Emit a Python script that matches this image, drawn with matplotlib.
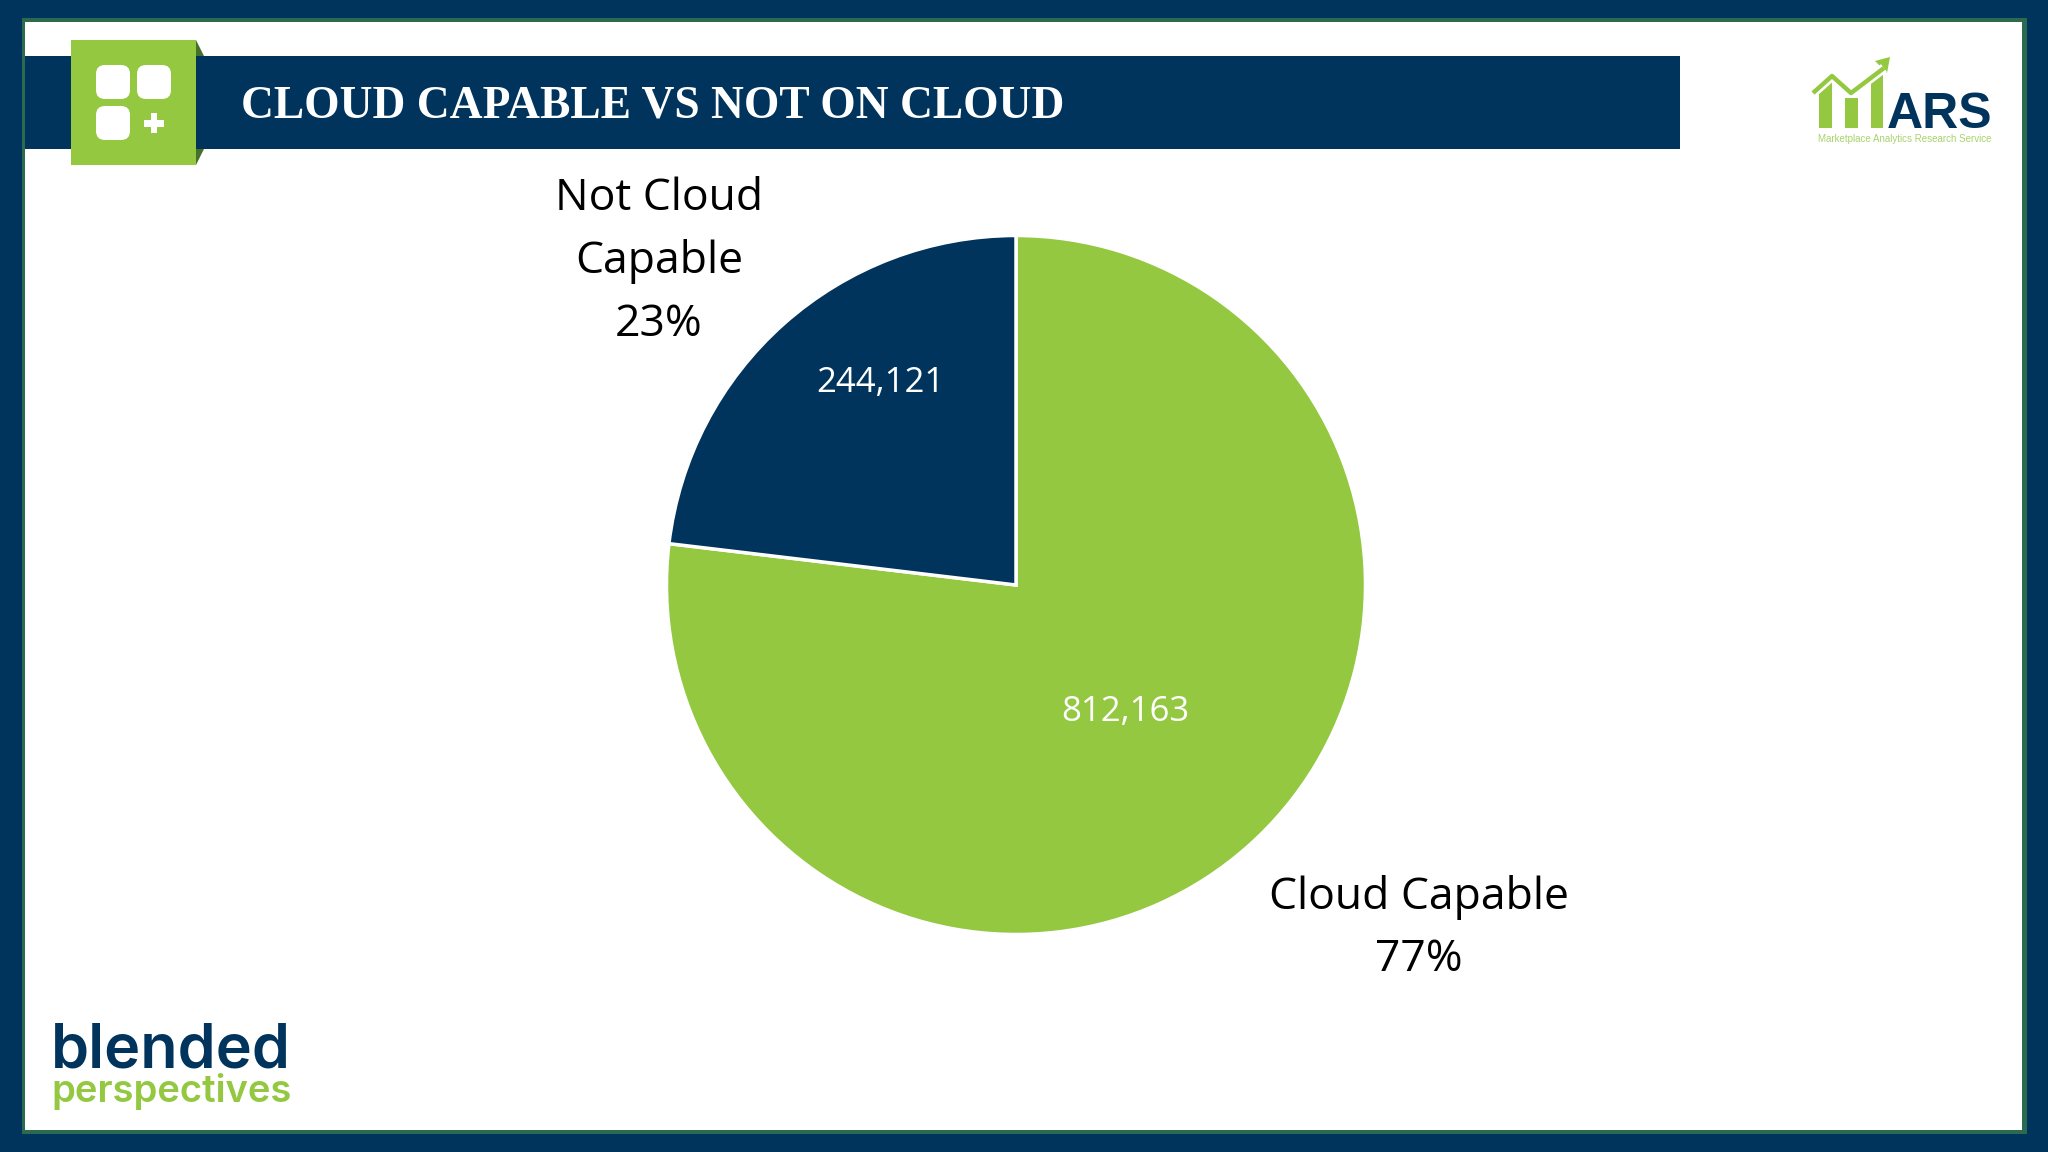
import matplotlib
matplotlib.use("Agg")
import matplotlib.pyplot as plt
from matplotlib.patches import Rectangle, Polygon, FancyBboxPatch

NAVY = "#00345C"
GREEN = "#93C840"
DARK_GREEN = "#47702B"

# chart data
categories = ["Cloud Capable", "Not Cloud Capable"]
values = [812163, 244121]
value_labels = ["812,163", "244,121"]
percent_labels = ["77%", "23%"]
title = "CLOUD CAPABLE VS NOT ON CLOUD"

W, H = 2048, 1152
fig = plt.figure(figsize=(W / 100, H / 100), dpi=100, facecolor=NAVY)

# overlay in pixel coordinates for the slide furniture
bg = fig.add_axes([0, 0, 1, 1])
bg.set_xlim(0, W)
bg.set_ylim(H, 0)
bg.axis("off")


def rect(x0, y0, x1, y1, color, **kw):
    bg.add_patch(Rectangle((x0, y0), x1 - x0, y1 - y0, facecolor=color, edgecolor="none", **kw))


# slide frame
rect(22, 18, 2027, 1134, "#2A6B50")
rect(25, 22, 2022, 1130, "white")

# header band and icon
rect(25, 56, 1680, 149, NAVY)
bg.add_patch(Polygon([(196, 40), (204, 56), (196, 56)], facecolor=DARK_GREEN, edgecolor="none"))
bg.add_patch(Polygon([(196, 149), (204, 149), (196, 165)], facecolor=DARK_GREEN, edgecolor="none"))
rect(71, 40, 196, 165, GREEN)
for x0, y0 in [(96, 65), (137, 65), (96, 106)]:
    bg.add_patch(FancyBboxPatch((x0 + 7, y0 + 7), 20, 20, boxstyle="round,pad=7,rounding_size=9",
                                facecolor="white", edgecolor="none"))
rect(144, 120, 164, 127, "white")
rect(151, 113, 157, 133, "white")
bg.text(241, 117, title, color="white", fontsize=32.8, fontweight="bold",
        family="Liberation Serif", ha="left", va="baseline")

# MARS logo
for x0, top, x1 in [(1819, 86, 1832), (1845, 98, 1858), (1871, 75, 1883)]:
    rect(x0, top, x1, 128, GREEN)
bg.add_patch(Polygon([(1819, 86), (1832, 79), (1832, 100), (1819, 100)], facecolor=GREEN, edgecolor="none"))
bg.plot([1813, 1832, 1851, 1884], [93, 76, 93, 68], color="white", lw=7, solid_capstyle="butt")
bg.plot([1813, 1832, 1851, 1884], [93, 76, 93, 68], color=GREEN, lw=3.2, solid_capstyle="butt")
bg.add_patch(Polygon([(1890, 57), (1875, 61), (1887, 73)], facecolor=GREEN, edgecolor="none"))
bg.text(1887, 128, "ARS", color=NAVY, fontsize=36, fontweight="bold",
        family="Liberation Sans", ha="left", va="baseline")
bg.text(1818, 142, "Marketplace Analytics Research Service", color="#A9D36B", fontsize=7,
        family="Liberation Sans", ha="left", va="baseline")

# blended perspectives logo
bg.text(51, 1068, "blended", color=NAVY, fontsize=44, fontweight="semibold", family="Inter",
        ha="left", va="baseline")
bg.text(51, 1102, "perspectives", color=GREEN, fontsize=27.5, fontweight="semibold", family="Inter",
        ha="left", va="baseline")

# pie
cx, cy, r = 1016, 585, 349.5
ax = fig.add_axes([(cx - r) / W, 1 - (cy + r) / H, 2 * r / W, 2 * r / H])
wedges, _ = ax.pie(values, colors=[GREEN, NAVY], startangle=90, counterclock=False,
                   wedgeprops={"edgecolor": "white", "linewidth": 2.5, "clip_on": False})
ax.set_xlim(-1, 1)
ax.set_ylim(-1, 1)

# labels sit in a top layer so the pie does not cover them
fg = fig.add_axes([0, 0, 1, 1])
fg.set_xlim(0, W)
fg.set_ylim(H, 0)
fg.axis("off")

label_font = "Open Sans"
fg.text(1125, 712, value_labels[0], color="white", fontsize=25, family=label_font, ha="center", va="center")
fg.text(880, 383, value_labels[1], color="white", fontsize=25, family=label_font, ha="center", va="center")
fg.text(1419, 897, "Cloud Capable", color="black", fontsize=32, family=label_font, ha="center", va="center")
fg.text(1419, 960, percent_labels[0], color="black", fontsize=32, family=label_font, ha="center", va="center")
fg.text(659, 199, "Not Cloud", color="black", fontsize=32, family=label_font, ha="center", va="center")
fg.text(659, 262, "Capable", color="black", fontsize=32, family=label_font, ha="center", va="center")
fg.text(659, 325, percent_labels[1], color="black", fontsize=32, family=label_font, ha="center", va="center")

fig.savefig("out.png", dpi=100, facecolor=NAVY)
